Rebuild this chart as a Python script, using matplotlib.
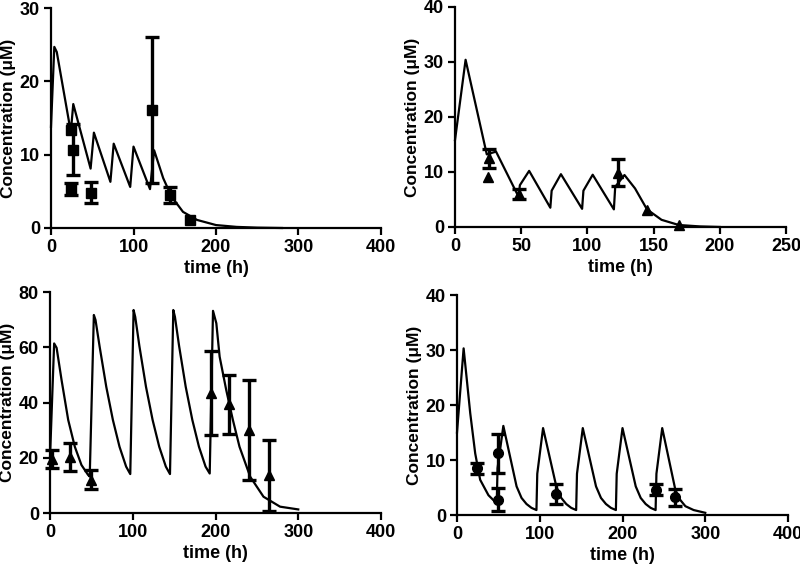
import numpy as np
import matplotlib
matplotlib.use('Agg')
import matplotlib.pyplot as plt

plt.rcParams['font.family'] = ['Liberation Sans', 'DejaVu Sans']
plt.rcParams['font.weight'] = 'bold'

# panel A: model curve and squares
t_a = [0, 4, 7, 24, 27, 48, 52, 72, 76, 96, 100, 120, 125, 136, 146, 160,
       177, 200, 225, 250, 280]
c_a = [13.8, 24.7, 24.0, 13.1, 16.9, 8.1, 13.0, 6.3, 11.5, 5.6, 11.1, 5.3,
       10.6, 6.8, 4.3, 2.2, 1.1, 0.4, 0.15, 0.05, 0.0]
pt_a = [24, 24, 27, 48, 123, 144, 168]
pc_a = [5.3, 13.4, 10.7, 4.8, 16.1, 4.5, 1.1]
pe_a = [0.85, 0.0, 3.45, 1.45, 9.9, 1.05, 0.0]

# panel B
t_b = [0, 8, 24, 31, 48, 49, 56, 72, 73, 80, 96, 97, 104, 120, 121, 128,
       136, 145, 156, 169, 185, 200]
c_b = [15.8, 30.4, 13.2, 13.7, 5.5, 7.6, 10.2, 3.5, 6.6, 9.6, 3.3, 6.6, 9.5,
       3.2, 7.3, 9.45, 7.0, 3.2, 1.3, 0.36, 0.1, 0.0]
pt_b = [25, 26, 48, 123, 145, 169]
pc_b = [9.1, 12.5, 6.0, 9.9, 3.0, 0.3]
pe_b = [0.0, 1.7, 0.9, 2.45, 0.0, 0.0]

# panel C
t_c = [0, 5, 8, 14, 22, 30, 38, 46, 48,
       53, 55, 60, 68, 76, 84, 92, 97,
       101, 103, 108, 116, 124, 132, 140, 145,
       149, 151, 156, 164, 172, 180, 188, 193,
       197, 201, 205, 213, 221, 229, 242, 258, 278, 300]
c_c = [20, 61.4, 59.8, 48.1, 33.7, 24.0, 17.4, 13.8, 13.2,
       71.7, 69.9, 60.2, 45.7, 33.7, 24.0, 16.8, 14.1,
       73.5, 71.0, 60.5, 45.7, 33.7, 24.0, 16.8, 14.1,
       73.5, 71.0, 60.5, 45.7, 33.7, 24.0, 16.8, 14.3,
       73.2, 68.7, 56.6, 44.5, 33.7, 24.0, 13.1, 5.9, 2.3, 1.3]
pt_c = [3, 24, 49, 195, 216, 240, 265]
pc_c = [19.5, 20.3, 12.1, 43.5, 39.3, 30.0, 13.7]
pe_c = [3.3, 5.0, 3.5, 15.3, 10.7, 18.1, 12.8]

# panel D
t_d = [0, 8, 16, 22, 28, 38, 48, 49, 56, 72, 78, 84, 90, 96,
       97, 104, 120, 126, 132, 138, 144, 145, 152, 168, 174, 180, 186, 192,
       193, 200, 216, 222, 228, 234, 240, 241, 248, 264, 270, 276, 286, 300]
c_d = [15.0, 30.3, 18.5, 11.2, 6.4, 3.6, 2.1, 8.5, 16.2, 5.2, 3.1, 2.0, 1.3, 0.9,
       7.5, 15.8, 5.2, 3.1, 2.0, 1.3, 0.9, 7.5, 15.8, 5.2, 3.1, 2.0, 1.3, 0.9,
       7.5, 15.8, 5.2, 3.1, 2.0, 1.3, 0.9, 7.5, 15.8, 4.5, 2.7, 1.6, 0.9, 0.4]
pt_d = [24, 50, 49, 120, 241, 264]
pc_d = [8.5, 11.2, 2.8, 3.8, 4.6, 3.2]
pe_d = [1.0, 3.5, 2.1, 1.8, 1.0, 1.6]

panels = [
    (t_a, c_a, pt_a, pc_a, pe_a, 's', [0.06375, 0.5986, 0.4125, 0.3873], 400, 30, 10, 100),
    (t_b, c_b, pt_b, pc_b, pe_b, '^', [0.56875, 0.6004, 0.41375, 0.3873], 250, 40, 10, 50),
    (t_c, c_c, pt_c, pc_c, pe_c, '^', [0.0625, 0.0968, 0.41375, 0.389], 400, 80, 20, 100),
    (t_d, c_d, pt_d, pc_d, pe_d, 'o', [0.57125, 0.0933, 0.41375, 0.3873], 400, 40, 10, 100),
]

fig = plt.figure(figsize=(8, 5.68), dpi=100)

for t, c, pt, pc, pe, mk, pos, xmax, ymax, ystep, xstep in panels:
    ax = fig.add_axes(pos)
    ax.plot(t, c, color='black', lw=1.6, clip_on=False, zorder=2)
    pt = np.array(pt)
    pc = np.array(pc)
    pe = np.array(pe)
    has = pe > 0
    ax.errorbar(pt[has], pc[has], yerr=pe[has], fmt=mk, color='black', ms=7,
                elinewidth=2.4, capsize=5, capthick=2.4, clip_on=False, zorder=3)
    ax.plot(pt[~has], pc[~has], mk, color='black', ms=7, clip_on=False, zorder=3)
    ax.set_xlim(0, xmax)
    ax.set_ylim(0, ymax)
    ax.set_xticks(np.arange(0, xmax + 1, xstep))
    ax.set_yticks(np.arange(0, ymax + 1, ystep))
    for s in ['top', 'right']:
        ax.spines[s].set_visible(False)
    for s in ['left', 'bottom']:
        ax.spines[s].set_linewidth(1.6)
    ax.tick_params(width=1.6, length=5, labelsize=13, pad=3)
    for lab in ax.get_xticklabels() + ax.get_yticklabels():
        lab.set_fontweight('bold')
    ax.set_xlabel('time (h)', fontsize=13, fontweight='bold', labelpad=3)
    ax.set_ylabel('Concentration (μM)', fontsize=12.5, fontweight='bold', labelpad=3)

fig.savefig('out.png', dpi=100)
